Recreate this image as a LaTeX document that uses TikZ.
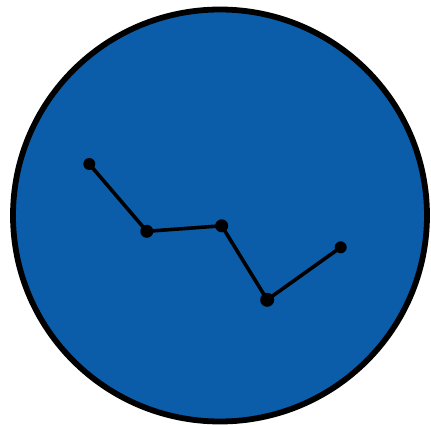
\documentclass[tikz,border=0pt]{standalone}
\definecolor{discblue}{HTML}{0B5DA9}
\begin{document}
\begin{tikzpicture}[x=1pt,y=-1pt,
  dot/.style={circle,fill=black,inner sep=0pt,minimum size=#1},
  link/.style={line width=3.6pt,black}]
\useasboundingbox (0,0) rectangle (431,425);
\draw[line width=5.8pt,fill=discblue] (220,215.5) ellipse [x radius=207, y radius=206];
\node[dot=12pt] (p1) at (89.3,164) {};
\node[dot=13pt] (p2) at (146.8,231.3) {};
\node[dot=13pt] (p3) at (221.7,225.8) {};
\node[dot=14pt] (p4) at (267.2,299.8) {};
\node[dot=12pt] (p5) at (340.7,247.3) {};
\draw[link] (p1.center) -- (p2.center) -- (p3.center) -- (p4.center) -- (p5.center);
\end{tikzpicture}
\end{document}
